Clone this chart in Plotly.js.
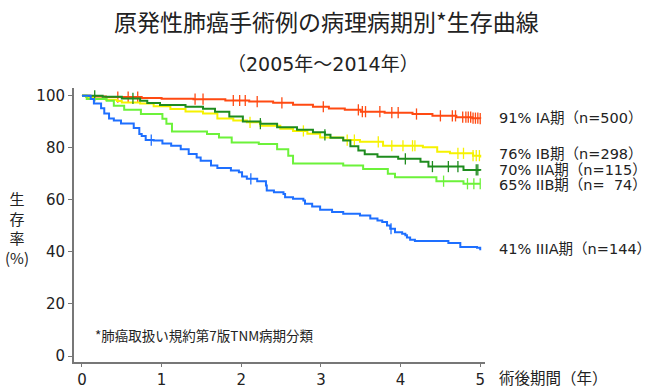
<!DOCTYPE html>
<html><head><meta charset="utf-8">
<script src="https://cdn.plot.ly/plotly-3.0.1.min.js"></script>
<style>html,body{margin:0;padding:0;background:#fff}#c{width:660px;height:389px}</style>
</head><body><div id="c"></div>
<script>
// Kaplan-Meier step data (years, survival %)
const iaT = [0,0.1,0.3,0.75,1.0,1.4,1.8,2.1,2.4,2.65,2.9,3.1,3.3,3.5,3.8,4.15,4.4,4.7,4.9,5.0];
const iaS = [100,99.7,99.5,99.2,98.9,98.7,98.2,97.8,97.3,96.6,95.8,95.1,94.6,93.9,93.5,93.0,92.3,91.8,91.4,91.2];
const iaC = [0.45,0.58,0.70,1.42,1.52,1.90,1.98,2.05,2.20,2.51,3.03,3.47,3.52,3.56,3.74,3.89,3.97,4.20,4.50,4.65,4.69,4.78,4.82,4.85,4.88,4.91,4.94,4.97,5.0];

const ibT = [0,0.05,0.14,0.3,0.44,0.50,0.73,0.9,1.11,1.3,1.52,1.70,1.9,2.07,2.24,2.49,2.65,2.83,2.99,3.28,3.49,3.78,4.28,4.46,4.62,4.91,5.0];
const ibS = [100,99.5,98.9,98.5,98.0,97.4,97.0,96.0,94.9,94.0,93.2,91.3,90.5,89.8,88.5,87.3,86.5,85.4,84.0,83.0,82.3,80.8,80.2,78.5,77.9,77.0,76.3];
const ibC = [2.11,2.78,3.33,3.42,3.72,3.89,4.03,4.15,4.18,4.72,4.79,4.91,4.95,4.99];

const iiaT = [0,0.26,0.5,0.73,0.82,0.98,1.3,1.52,1.67,1.85,2.02,2.24,2.45,2.70,2.9,3.05,3.12,3.28,3.37,3.47,3.55,3.71,3.97,4.25,4.35,4.79,5.0];
const iiaS = [100,99.6,99.0,98.1,97.2,96.5,95.8,95.0,93.9,92.0,90.1,89.3,87.9,87.0,86.0,85.0,83.9,82.8,80.6,79.0,77.5,76.6,75.8,74.7,72.8,71.5,71.2];
const iiaC = [0.16,0.64,2.24,3.05,4.06,4.40,4.60,4.72,4.95,4.97];

const iibT = [0,0.06,0.31,0.40,0.53,0.74,1.01,1.06,1.13,1.57,1.72,1.88,2.22,2.45,2.59,2.65,3.28,3.53,3.84,3.93,4.45,4.79,5.0];
const iibS = [100,98.8,98.1,96.2,94.6,93.0,91.2,89.3,86.3,85.3,84.0,82.1,81.5,79.5,77.0,74.0,73.2,71.9,70.0,68.7,67.2,66.2,66.2];
const iibC = [4.54,4.84,4.92,5.0];

const iiiaT = [0,0.11,0.15,0.24,0.28,0.34,0.40,0.49,0.65,0.72,0.75,0.80,0.90,1.01,1.12,1.24,1.34,1.44,1.49,1.62,1.70,1.87,1.97,2.01,2.07,2.20,2.31,2.32,2.41,2.53,2.55,2.65,2.78,2.80,2.89,2.99,3.14,3.28,3.49,3.62,3.71,3.77,3.83,3.87,3.93,4.02,4.06,4.08,4.12,4.18,4.60,4.75,4.96,5.0];
const iiiaS = [100,98.8,97,95.2,93.2,91.3,90.5,89.4,87.6,85.3,84.6,83,82.8,81.7,80.8,79.5,77.6,76.3,75,73.2,72.3,71.3,70.6,69,68.1,67.2,65.5,63.6,62.9,62.3,61,60.4,59.8,58.5,57.5,56.2,55.3,54.7,54.0,52.8,52.1,51.5,50.2,48.9,47.6,47,46.4,45.5,44.7,44.2,43.4,41.9,41.6,40.6];
const iiiaC = [0.87,2.12,3.88];

const labels = ["91% IA期（n=500）","76% IB期（n=298）","70% IIA期（n=115）","65% IIB期（n=  74）","41% IIIA期（n=144）"];
const labelY = [91.5,77.5,71.5,65.8,41];
const xTicks = [0,1,2,3,4,5];
const yTicks = [0,20,40,60,80,100];

const series = [
  {t:iaT,s:iaS,c:iaC,color:"#ff4a12"},
  {t:ibT,s:ibS,c:ibC,color:"#f6f200"},
  {t:iiaT,s:iiaS,c:iiaC,color:"#1e8c1e"},
  {t:iibT,s:iibS,c:iibC,color:"#6cf23a"},
  {t:iiiaT,s:iiiaS,c:iiiaC,color:"#1e6fff"}
];
function stepAt(t,s,x){let v=s[0];for(let i=0;i<t.length;i++){if(t[i]<=x)v=s[i];}return v;}

const traces=[];
series.forEach(se=>{
  traces.push({x:se.t,y:se.s,type:"scatter",mode:"lines",line:{shape:"hv",color:se.color,width:2},hoverinfo:"skip"});
  traces.push({x:se.c,y:se.c.map(x=>stepAt(se.t,se.s,x)),type:"scatter",mode:"markers",
    marker:{symbol:"line-ns",size:8,line:{color:se.color,width:1.3}},hoverinfo:"skip"});
});

const F="'DejaVu Sans', 'Noto Sans CJK JP', sans-serif";
const FJ="'Noto Sans CJK JP', sans-serif";
const ph=389-88-27;
const ann=[
  {text:"原発性肺癌手術例の病理病期別*生存曲線",xref:"paper",yref:"paper",x:(326-74)/411,y:1+(88-21)/ph,xanchor:"center",yanchor:"middle",showarrow:false,font:{size:23,color:"#222",family:FJ}},
  {text:"（2005年～2014年）",xref:"paper",yref:"paper",x:(323-74)/411,y:1+(88-64)/ph,xanchor:"center",yanchor:"middle",showarrow:false,font:{size:19,color:"#222",family:F}}
];
labels.forEach((l,i)=>ann.push({text:l,xref:"paper",yref:"y",x:1,y:labelY[i],xanchor:"left",yanchor:"middle",xshift:12,showarrow:false,font:{size:14.5,color:"#222",family:F}}));
ann.push({text:"生<br>存<br>率<br>(%)",xref:"paper",yref:"paper",x:0,y:0.49,xanchor:"center",yanchor:"middle",xshift:-57,showarrow:false,font:{size:15,color:"#222",family:FJ}});
ann.push({text:"*肺癌取扱い規約第7版TNM病期分類",xref:"x",yref:"y",x:0.14,y:8,xanchor:"left",yanchor:"middle",showarrow:false,font:{size:13.5,color:"#222",family:FJ}});
ann.push({text:"術後期間（年）",xref:"paper",yref:"paper",x:1,y:-(377-362)/ph,xanchor:"left",yanchor:"middle",xshift:12,showarrow:false,font:{size:15.5,color:"#222",family:FJ}});

const layout={
  width:660,height:389,margin:{l:74,r:175,t:88,b:27},
  paper_bgcolor:"#fff",plot_bgcolor:"#fff",showlegend:false,
  font:{family:F,color:"#222"},
  xaxis:{range:[-0.1,5.06],tickvals:xTicks,ticktext:xTicks.map(String),showgrid:false,zeroline:false,
    showline:true,linecolor:"#777",linewidth:2,ticks:"outside",ticklen:3,tickcolor:"#777",tickfont:{size:15,family:F,color:"#222"}},
  yaxis:{range:[-2.3,103],tickvals:yTicks,ticktext:yTicks.map(String),showgrid:false,zeroline:false,
    showline:true,linecolor:"#777",linewidth:2,ticks:"outside",ticklen:4,tickcolor:"#777",tickfont:{size:15,family:F,color:"#222"}},
  annotations:ann
};
Plotly.newPlot("c",traces,layout,{staticPlot:true});
</script></body></html>
